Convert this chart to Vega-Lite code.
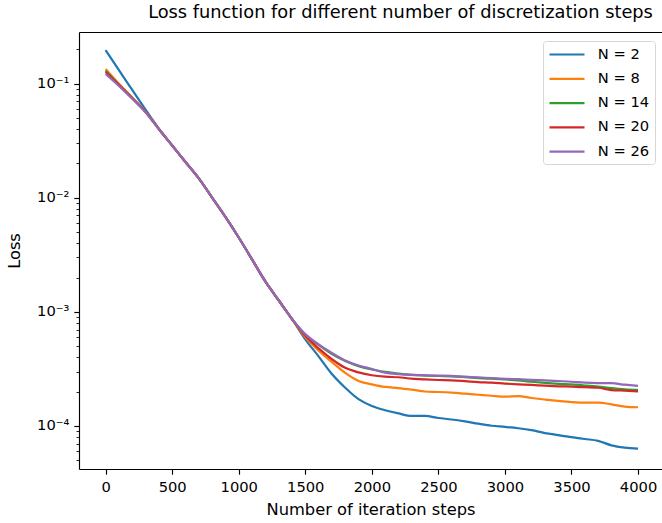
{
  "$schema": "https://vega.github.io/schema/vega-lite/v6.json",
  "autosize": {"type": "none"},
  "width": 583,
  "height": 437,
  "padding": {"left": 79, "top": 32, "right": 0, "bottom": 54},
  "background": "white",
  "config": {"view": {"stroke": null}, "font": "DejaVu Sans"},
  "title": {"text": "Loss function for different number of discretization steps", "font": "DejaVu Sans", "fontSize": 17.8, "fontWeight": "normal", "color": "black", "anchor": "middle", "baseline": "bottom", "offset": -8, "dx": 30},
  "data": {"values": [
    {"step":0,"series":"N = 2","loss":0.1972},{"step":100,"series":"N = 2","loss":0.1315},{"step":200,"series":"N = 2","loss":0.0883},{"step":300,"series":"N = 2","loss":0.05929},{"step":400,"series":"N = 2","loss":0.0402},{"step":500,"series":"N = 2","loss":0.02877},{"step":600,"series":"N = 2","loss":0.02061},{"step":700,"series":"N = 2","loss":0.01479},{"step":800,"series":"N = 2","loss":0.010046},{"step":900,"series":"N = 2","loss":0.006792},{"step":1000,"series":"N = 2","loss":0.004487},{"step":1100,"series":"N = 2","loss":0.002884},{"step":1200,"series":"N = 2","loss":0.001849},{"step":1300,"series":"N = 2","loss":0.001265},{"step":1400,"series":"N = 2","loss":0.000867},{"step":1500,"series":"N = 2","loss":0.0005754},{"step":1600,"series":"N = 2","loss":0.0004074},{"step":1700,"series":"N = 2","loss":0.0002851},{"step":1800,"series":"N = 2","loss":0.0002163},{"step":1900,"series":"N = 2","loss":0.0001718},{"step":2000,"series":"N = 2","loss":0.0001496},{"step":2100,"series":"N = 2","loss":0.0001374},{"step":2200,"series":"N = 2","loss":0.0001288},{"step":2300,"series":"N = 2","loss":0.0001225},{"step":2400,"series":"N = 2","loss":0.0001225},{"step":2500,"series":"N = 2","loss":0.0001175},{"step":2600,"series":"N = 2","loss":0.000114},{"step":2700,"series":"N = 2","loss":0.0001096},{"step":2800,"series":"N = 2","loss":0.0001047},{"step":2900,"series":"N = 2","loss":0.0001005},{"step":3000,"series":"N = 2","loss":0.00009817},{"step":3100,"series":"N = 2","loss":0.0000955},{"step":3200,"series":"N = 2","loss":0.00009183},{"step":3300,"series":"N = 2","loss":0.0000867},{"step":3400,"series":"N = 2","loss":0.00008318},{"step":3500,"series":"N = 2","loss":0.0000798},{"step":3600,"series":"N = 2","loss":0.00007691},{"step":3700,"series":"N = 2","loss":0.00007413},{"step":3800,"series":"N = 2","loss":0.00006761},{"step":3900,"series":"N = 2","loss":0.00006457},{"step":4000,"series":"N = 2","loss":0.00006324},
    {"step":0,"series":"N = 8","loss":0.1346},{"step":100,"series":"N = 8","loss":0.1},{"step":200,"series":"N = 8","loss":0.07586},{"step":300,"series":"N = 8","loss":0.05689},{"step":400,"series":"N = 8","loss":0.0401},{"step":500,"series":"N = 8","loss":0.02877},{"step":600,"series":"N = 8","loss":0.02061},{"step":700,"series":"N = 8","loss":0.01479},{"step":800,"series":"N = 8","loss":0.010046},{"step":900,"series":"N = 8","loss":0.006792},{"step":1000,"series":"N = 8","loss":0.004487},{"step":1100,"series":"N = 8","loss":0.002884},{"step":1200,"series":"N = 8","loss":0.001849},{"step":1300,"series":"N = 8","loss":0.001265},{"step":1400,"series":"N = 8","loss":0.000867},{"step":1500,"series":"N = 8","loss":0.0006026},{"step":1600,"series":"N = 8","loss":0.0004571},{"step":1700,"series":"N = 8","loss":0.0003631},{"step":1800,"series":"N = 8","loss":0.0002917},{"step":1900,"series":"N = 8","loss":0.0002483},{"step":2000,"series":"N = 8","loss":0.0002317},{"step":2100,"series":"N = 8","loss":0.0002198},{"step":2200,"series":"N = 8","loss":0.0002148},{"step":2300,"series":"N = 8","loss":0.000208},{"step":2400,"series":"N = 8","loss":0.0002005},{"step":2500,"series":"N = 8","loss":0.0001986},{"step":2600,"series":"N = 8","loss":0.0001959},{"step":2700,"series":"N = 8","loss":0.0001919},{"step":2800,"series":"N = 8","loss":0.0001879},{"step":2900,"series":"N = 8","loss":0.0001841},{"step":3000,"series":"N = 8","loss":0.0001807},{"step":3100,"series":"N = 8","loss":0.0001828},{"step":3200,"series":"N = 8","loss":0.0001758},{"step":3300,"series":"N = 8","loss":0.0001706},{"step":3400,"series":"N = 8","loss":0.000166},{"step":3500,"series":"N = 8","loss":0.0001622},{"step":3600,"series":"N = 8","loss":0.0001603},{"step":3700,"series":"N = 8","loss":0.0001603},{"step":3800,"series":"N = 8","loss":0.0001549},{"step":3900,"series":"N = 8","loss":0.0001479},{"step":4000,"series":"N = 8","loss":0.0001459},
    {"step":0,"series":"N = 14","loss":0.13},{"step":100,"series":"N = 14","loss":0.09817},{"step":200,"series":"N = 14","loss":0.075},{"step":300,"series":"N = 14","loss":0.05662},{"step":400,"series":"N = 14","loss":0.0401},{"step":500,"series":"N = 14","loss":0.02877},{"step":600,"series":"N = 14","loss":0.02061},{"step":700,"series":"N = 14","loss":0.01479},{"step":800,"series":"N = 14","loss":0.010046},{"step":900,"series":"N = 14","loss":0.006792},{"step":1000,"series":"N = 14","loss":0.004487},{"step":1100,"series":"N = 14","loss":0.002884},{"step":1200,"series":"N = 14","loss":0.001849},{"step":1300,"series":"N = 14","loss":0.001265},{"step":1400,"series":"N = 14","loss":0.000867},{"step":1500,"series":"N = 14","loss":0.000631},{"step":1600,"series":"N = 14","loss":0.0005129},{"step":1700,"series":"N = 14","loss":0.0004266},{"step":1800,"series":"N = 14","loss":0.0003715},{"step":1900,"series":"N = 14","loss":0.000335},{"step":2000,"series":"N = 14","loss":0.0003126},{"step":2100,"series":"N = 14","loss":0.0002985},{"step":2200,"series":"N = 14","loss":0.0002884},{"step":2300,"series":"N = 14","loss":0.0002805},{"step":2400,"series":"N = 14","loss":0.0002767},{"step":2500,"series":"N = 14","loss":0.0002742},{"step":2600,"series":"N = 14","loss":0.0002723},{"step":2700,"series":"N = 14","loss":0.0002679},{"step":2800,"series":"N = 14","loss":0.000263},{"step":2900,"series":"N = 14","loss":0.0002594},{"step":3000,"series":"N = 14","loss":0.0002559},{"step":3100,"series":"N = 14","loss":0.0002512},{"step":3200,"series":"N = 14","loss":0.0002443},{"step":3300,"series":"N = 14","loss":0.0002388},{"step":3400,"series":"N = 14","loss":0.0002344},{"step":3500,"series":"N = 14","loss":0.0002312},{"step":3600,"series":"N = 14","loss":0.0002265},{"step":3700,"series":"N = 14","loss":0.0002213},{"step":3800,"series":"N = 14","loss":0.0002148},{"step":3900,"series":"N = 14","loss":0.0002099},{"step":4000,"series":"N = 14","loss":0.000207},
    {"step":0,"series":"N = 20","loss":0.1268},{"step":100,"series":"N = 20","loss":0.09727},{"step":200,"series":"N = 20","loss":0.07447},{"step":300,"series":"N = 20","loss":0.05649},{"step":400,"series":"N = 20","loss":0.0401},{"step":500,"series":"N = 20","loss":0.02877},{"step":600,"series":"N = 20","loss":0.02061},{"step":700,"series":"N = 20","loss":0.01479},{"step":800,"series":"N = 20","loss":0.010046},{"step":900,"series":"N = 20","loss":0.006792},{"step":1000,"series":"N = 20","loss":0.004487},{"step":1100,"series":"N = 20","loss":0.002884},{"step":1200,"series":"N = 20","loss":0.001849},{"step":1300,"series":"N = 20","loss":0.001265},{"step":1400,"series":"N = 20","loss":0.000867},{"step":1500,"series":"N = 20","loss":0.0006166},{"step":1600,"series":"N = 20","loss":0.0004786},{"step":1700,"series":"N = 20","loss":0.0003846},{"step":1800,"series":"N = 20","loss":0.0003236},{"step":1900,"series":"N = 20","loss":0.0002951},{"step":2000,"series":"N = 20","loss":0.0002786},{"step":2100,"series":"N = 20","loss":0.0002704},{"step":2200,"series":"N = 20","loss":0.0002673},{"step":2300,"series":"N = 20","loss":0.00026},{"step":2400,"series":"N = 20","loss":0.0002559},{"step":2500,"series":"N = 20","loss":0.0002529},{"step":2600,"series":"N = 20","loss":0.0002512},{"step":2700,"series":"N = 20","loss":0.0002472},{"step":2800,"series":"N = 20","loss":0.0002427},{"step":2900,"series":"N = 20","loss":0.0002399},{"step":3000,"series":"N = 20","loss":0.0002355},{"step":3100,"series":"N = 20","loss":0.0002317},{"step":3200,"series":"N = 20","loss":0.0002291},{"step":3300,"series":"N = 20","loss":0.0002254},{"step":3400,"series":"N = 20","loss":0.0002228},{"step":3500,"series":"N = 20","loss":0.0002213},{"step":3600,"series":"N = 20","loss":0.0002188},{"step":3700,"series":"N = 20","loss":0.0002163},{"step":3800,"series":"N = 20","loss":0.0002065},{"step":3900,"series":"N = 20","loss":0.0002042},{"step":4000,"series":"N = 20","loss":0.0002014},
    {"step":0,"series":"N = 26","loss":0.1216},{"step":100,"series":"N = 26","loss":0.0955},{"step":200,"series":"N = 26","loss":0.07379},{"step":300,"series":"N = 26","loss":0.05623},{"step":400,"series":"N = 26","loss":0.0401},{"step":500,"series":"N = 26","loss":0.02877},{"step":600,"series":"N = 26","loss":0.02061},{"step":700,"series":"N = 26","loss":0.01479},{"step":800,"series":"N = 26","loss":0.010046},{"step":900,"series":"N = 26","loss":0.006792},{"step":1000,"series":"N = 26","loss":0.004487},{"step":1100,"series":"N = 26","loss":0.002884},{"step":1200,"series":"N = 26","loss":0.001849},{"step":1300,"series":"N = 26","loss":0.001265},{"step":1400,"series":"N = 26","loss":0.000867},{"step":1500,"series":"N = 26","loss":0.0006383},{"step":1600,"series":"N = 26","loss":0.0005188},{"step":1700,"series":"N = 26","loss":0.0004365},{"step":1800,"series":"N = 26","loss":0.0003758},{"step":1900,"series":"N = 26","loss":0.0003388},{"step":2000,"series":"N = 26","loss":0.0003162},{"step":2100,"series":"N = 26","loss":0.0002931},{"step":2200,"series":"N = 26","loss":0.0002851},{"step":2300,"series":"N = 26","loss":0.0002805},{"step":2400,"series":"N = 26","loss":0.0002786},{"step":2500,"series":"N = 26","loss":0.0002767},{"step":2600,"series":"N = 26","loss":0.0002748},{"step":2700,"series":"N = 26","loss":0.0002704},{"step":2800,"series":"N = 26","loss":0.0002667},{"step":2900,"series":"N = 26","loss":0.000263},{"step":3000,"series":"N = 26","loss":0.0002594},{"step":3100,"series":"N = 26","loss":0.000257},{"step":3200,"series":"N = 26","loss":0.0002535},{"step":3300,"series":"N = 26","loss":0.0002512},{"step":3400,"series":"N = 26","loss":0.0002477},{"step":3500,"series":"N = 26","loss":0.0002443},{"step":3600,"series":"N = 26","loss":0.0002399},{"step":3700,"series":"N = 26","loss":0.0002377},{"step":3800,"series":"N = 26","loss":0.0002371},{"step":3900,"series":"N = 26","loss":0.0002301},{"step":4000,"series":"N = 26","loss":0.0002244}
  ]},
  "layer": [
    {
      "mark": {"type": "line", "strokeWidth": 2.2, "interpolate": "monotone"},
      "encoding": {
        "x": {"field": "step", "type": "quantitative",
          "scale": {"domain": [-200, 4180], "nice": false, "zero": false},
          "axis": {"orient": "bottom", "values": [0,500,1000,1500,2000,2500,3000,3500,4000], "format": "d", "grid": false,
            "domainColor": "black", "domainWidth": 1.15, "tickColor": "black", "tickWidth": 1.15, "tickSize": 5.2,
            "labelFont": "DejaVu Sans", "labelFontSize": 14.7, "labelColor": "black", "labelPadding": 4.9, "labelFlush": false,
            "title": "Number of iteration steps", "titleFont": "DejaVu Sans", "titleFontSize": 16.3, "titleFontWeight": "normal", "titleColor": "black",
            "titleBaseline": "middle", "titleY": 40.5}},
        "y": {"field": "loss", "type": "quantitative",
          "scale": {"type": "log", "domain": [0.00004197, 0.2841], "nice": false},
          "axis": {"orient": "left", "values": [0.1, 0.01, 0.001, 0.0001], "grid": false,
            "labelExpr": "datum.value > 0.05 ? '10⁻¹' : datum.value > 0.005 ? '10⁻²' : datum.value > 0.0005 ? '10⁻³' : '10⁻⁴'",
            "domainColor": "black", "domainWidth": 1.15, "tickColor": "black", "tickWidth": 1.15, "tickSize": 5.2,
            "labelFont": "DejaVu Sans", "labelFontSize": 14.7, "labelColor": "black", "labelPadding": 4.9, "labelFlush": false,
            "title": "Loss", "titleFont": "DejaVu Sans", "titleFontSize": 16.3, "titleFontWeight": "normal", "titleColor": "black",
            "titleX": -65, "titleY": 218.5, "titleBaseline": "middle", "titleAngle": 270}},
        "color": {"field": "series", "type": "nominal",
          "scale": {"domain": ["N = 2", "N = 8", "N = 14", "N = 20", "N = 26"], "range": ["#1f77b4", "#ff7f0e", "#2ca02c", "#d62728", "#9467bd"]},
          "legend": {"title": null, "orient": "none", "legendX": 464, "legendY": 9,
            "symbolType": "M-2.5,0H2.5", "symbolSize": 196, "symbolStrokeWidth": 2.2, "symbolOffset": 10.5,
            "labelFont": "DejaVu Sans", "labelFontSize": 14.7, "labelColor": "black", "labelOffset": 22.3,
            "labelExpr": "datum.label + ' '",
            "rowPadding": 8.3, "padding": 5, "strokeColor": "#d6d6d6", "fillColor": "white", "cornerRadius": 3}}
      }
    },
    {
      "mark": {"type": "line", "opacity": 0},
      "encoding": {
        "x": {"field": "step", "type": "quantitative",
          "axis": {"orient": "top", "domainColor": "black", "domainWidth": 1.15, "ticks": false, "labels": false, "grid": false, "title": null, "minExtent": 0, "maxExtent": 0}},
        "y": {"field": "loss", "type": "quantitative",
          "axis": {"orient": "left", "values": [0.00005,0.00006,0.00007,0.00008,0.00009,0.0002,0.0003,0.0004,0.0005,0.0006,0.0007,0.0008,0.0009,0.002,0.003,0.004,0.005,0.006,0.007,0.008,0.009,0.02,0.03,0.04,0.05,0.06,0.07,0.08,0.09,0.2],
            "domain": false, "labels": false, "grid": false, "title": null, "tickColor": "black", "tickWidth": 0.85, "tickSize": 3}},
        "detail": {"field": "series"}
      }
    }
  ],
  "resolve": {"axis": {"x": "independent", "y": "independent"}}
}
